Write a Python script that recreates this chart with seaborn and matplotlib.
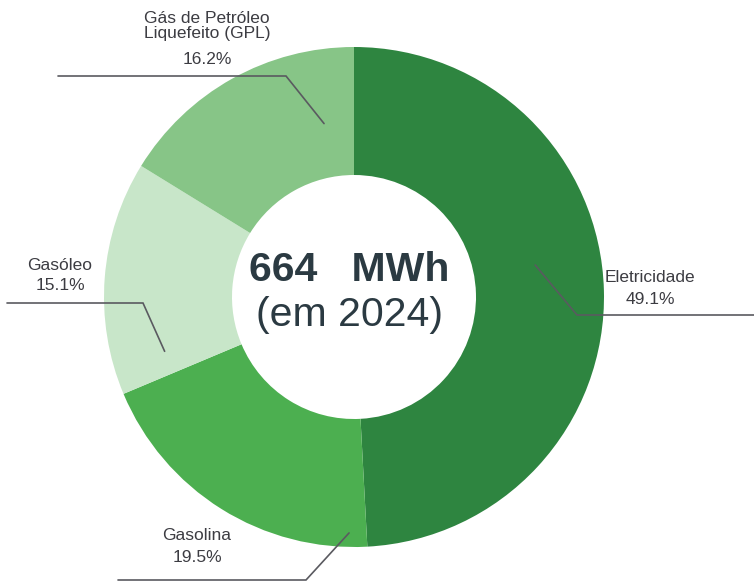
import matplotlib
matplotlib.use("Agg")
import matplotlib.pyplot as plt
import seaborn as sns
import numpy as np

categories = ["Eletricidade", "Gasolina", "Gasóleo", "Gás de Petróleo\nLiquefeito (GPL)"]
values = [49.1, 19.5, 15.1, 16.2]
pct_labels = ["49.1%", "19.5%", "15.1%", "16.2%"]
colors = ["#2E8540", "#4CAF50", "#C8E6C9", "#87C587"]
center_value = "664   MWh"
center_sub = "(em 2024)"

sns.set_theme(style="white")
plt.rcParams['font.family'] = ['Liberation Sans', 'DejaVu Sans']

W, H = 754, 582
fig = plt.figure(figsize=(W / 100, H / 100), dpi=100)
ax = fig.add_axes([0, 0, 1, 1])
ax.set_xlim(0, W)
ax.set_ylim(0, H)
ax.axis("off")

cx, cy = 354, 582 - 297
R = 250
r_in = 122

ax.pie(values, colors=sns.color_palette(colors), startangle=90, counterclock=False,
       radius=R, center=(cx, cy), wedgeprops=dict(width=R - r_in, linewidth=0))
ax.set_xlim(0, W)
ax.set_ylim(0, H)
ax.set_aspect("equal")

ax.text(cx - 5, cy + 27, center_value, ha="center", va="center", fontsize=29.5,
        fontweight="bold", color="#2B3A42")
ax.text(cx - 5, cy - 18, center_sub, ha="center", va="center", fontsize=29.5,
        color="#2B3A42")

line_color = "#5A5A60"
# leader lines: (angle deg, radius) anchor, elbow (x,y px from top), end x
leaders = [
    (10.0, 184, (577, 315), 754),
    (268.8, 236, (306, 580), 118),
    (196.0, 197, (143, 303), 7),
    (99.8, 176, (286, 76), 58),
]
for ang, rr, (ex, ey), endx in leaders:
    px = cx + rr * np.cos(np.radians(ang))
    py = cy + rr * np.sin(np.radians(ang))
    ax.plot([px, ex, endx], [py, H - ey, H - ey], color=line_color, lw=1.2,
            solid_joinstyle="miter", clip_on=False)

label_pos = [
    (650, 278, 299),
    (197, 536, 557),
    (60, 266, 286),
    (207, 26, 59),
]
fs = 12.5
tc = "#3C3C42"
for (x, y1, y2), name, pct in zip(label_pos, categories, pct_labels):
    ax.text(x, H - y1, name, ha="center", va="center", fontsize=fs, color=tc,
            linespacing=0.95)
    ax.text(x, H - y2, pct, ha="center", va="center", fontsize=fs, color=tc)

fig.savefig("out.png", dpi=100)
